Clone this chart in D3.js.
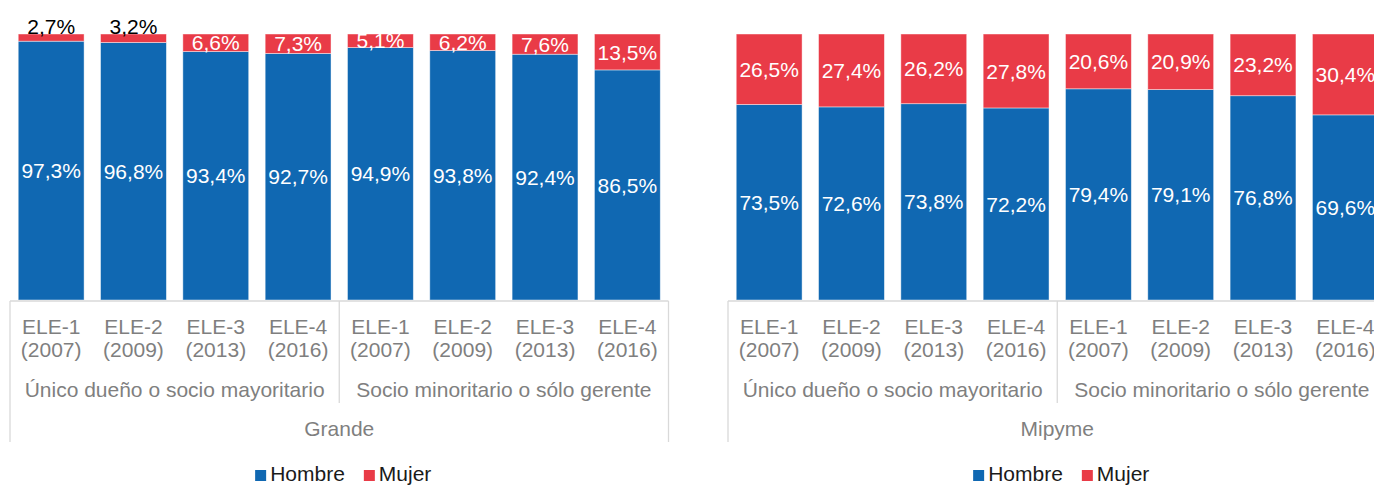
<!DOCTYPE html>
<html>
<head>
<meta charset="utf-8">
<script src="https://cdn.jsdelivr.net/npm/d3@7"></script>
<style>
  html, body { margin: 0; padding: 0; background: #fff; }
  svg { display: block; font-family: "Liberation Sans", Arial, sans-serif; }
</style>
</head>
<body>
<svg id="chart" width="1374" height="485"></svg>
<script>
const waves = ["ELE-1", "ELE-2", "ELE-3", "ELE-4"];
const years = ["(2007)", "(2009)", "(2013)", "(2016)"];
const groups = ["Único dueño o socio mayoritario", "Socio minoritario o sólo gerente"];
const panels = ["Grande", "Mipyme"];
const seriesNames = ["Hombre", "Mujer"];

const grandeHombre = [97.3, 96.8, 93.4, 92.7, 94.9, 93.8, 92.4, 86.5];
const grandeMujer  = [2.7, 3.2, 6.6, 7.3, 5.1, 6.2, 7.6, 13.5];
const mipymeHombre = [73.5, 72.6, 73.8, 72.2, 79.4, 79.1, 76.8, 69.6];
const mipymeMujer  = [26.5, 27.4, 26.2, 27.8, 20.6, 20.9, 23.2, 30.4];

const colors = { Hombre: "#1068B2", Mujer: "#E93B47" };
const gridColor = "#d9d9d9";
const textGray = "#7f7f7f";

const svg = d3.select("#chart");
const fmt = v => d3.format(".1f")(v).replace(".", ",") + "%";

const y = d3.scaleLinear().domain([0, 100]).range([300, 34]);
const axisY = 301;

const panelData = [
  { name: panels[0], hombre: grandeHombre, mujer: grandeMujer, x0: 10 },
  { name: panels[1], hombre: mipymeHombre, mujer: mipymeMujer, x0: 728 }
];
const panelWidth = 658.5;

panelData.forEach(p => {
  const cats = [];
  groups.forEach((g, gi) => waves.forEach((w, wi) => cats.push({ key: gi + "-" + wi, wave: w, year: years[wi], group: gi })));
  const x = d3.scaleBand().domain(cats.map(c => c.key)).range([p.x0, p.x0 + panelWidth]).paddingInner(0.2).paddingOuter(0.1);
  const rows = cats.map((c, i) => ({ key: c.key, Hombre: p.hombre[i], Mujer: p.mujer[i] }));
  const stack = d3.stack().keys(seriesNames)(rows);

  const g = svg.append("g");
  stack.forEach(layer => {
    g.selectAll(null).data(layer).join("rect")
      .attr("x", d => x(d.data.key))
      .attr("width", x.bandwidth())
      .attr("y", d => y(d[1]))
      .attr("height", d => y(d[0]) - y(d[1]))
      .attr("fill", colors[layer.key])
      .attr("stroke", "rgba(255,255,255,0.55)")
      .attr("stroke-width", 0.8);
  });

  // labels
  stack.forEach(layer => {
    g.selectAll(null).data(layer).join("text")
      .attr("x", d => x(d.data.key) + x.bandwidth() / 2)
      .attr("y", d => {
        const v = d[1] - d[0];
        if (layer.key === "Mujer" && v < 4) return y(100) - 0.5;
        return (y(d[0]) + y(d[1])) / 2;
      })
      .attr("dy", d => (layer.key === "Mujer" && (d[1] - d[0]) < 4) ? "0" : "0.36em")
      .attr("text-anchor", "middle")
      .attr("font-size", 21)
      .attr("fill", d => (layer.key === "Mujer" && (d[1] - d[0]) < 4) ? "#000" : "#fff")
      .text(d => fmt(d[1] - d[0]));
  });

  // axis lines
  const x1 = p.x0 + panelWidth;
  const mid = p.x0 + panelWidth / 2;
  g.append("line").attr("x1", p.x0).attr("x2", x1).attr("y1", axisY).attr("y2", axisY)
    .attr("stroke", gridColor).attr("stroke-width", 1.3);
  [p.x0, x1].forEach(xx => g.append("line").attr("x1", xx).attr("x2", xx).attr("y1", axisY).attr("y2", 442)
    .attr("stroke", gridColor).attr("stroke-width", 1.3));
  g.append("line").attr("x1", mid).attr("x2", mid).attr("y1", axisY).attr("y2", 403)
    .attr("stroke", gridColor).attr("stroke-width", 1.3);

  // category labels
  g.selectAll(null).data(cats).join("text")
    .attr("x", d => x(d.key) + x.bandwidth() / 2)
    .attr("y", 334)
    .attr("text-anchor", "middle").attr("font-size", 21).attr("fill", textGray)
    .text(d => d.wave);
  g.selectAll(null).data(cats).join("text")
    .attr("x", d => x(d.key) + x.bandwidth() / 2)
    .attr("y", 357)
    .attr("text-anchor", "middle").attr("font-size", 21).attr("fill", textGray)
    .text(d => d.year);
  groups.forEach((gname, gi) => {
    g.append("text")
      .attr("x", p.x0 + panelWidth / 4 + gi * panelWidth / 2)
      .attr("y", 397)
      .attr("text-anchor", "middle").attr("font-size", 21).attr("fill", textGray)
      .text(gname);
  });
  g.append("text").attr("x", mid).attr("y", 436)
    .attr("text-anchor", "middle").attr("font-size", 21).attr("fill", textGray)
    .text(p.name);

  // legend
  const leg = g.append("g");
  const items = leg.selectAll(null).data(seriesNames).join("g");
  items.append("rect").attr("width", 11).attr("height", 11).attr("y", 470)
    .attr("fill", d => colors[d]);
  items.append("text").attr("x", 15).attr("y", 481).attr("font-size", 21).attr("fill", "#1a1a1a")
    .text(d => d);
  let cx = 0;
  const widths = [];
  items.each(function() { widths.push(this.getBBox().width); });
  const gap = 19;
  const total = d3.sum(widths) + gap * (widths.length - 1);
  let start = mid + 4 - total / 2;
  items.attr("transform", (d, i) => {
    const t = `translate(${start},0)`;
    start += widths[i] + gap;
    return t;
  });
});
</script>
</body>
</html>
